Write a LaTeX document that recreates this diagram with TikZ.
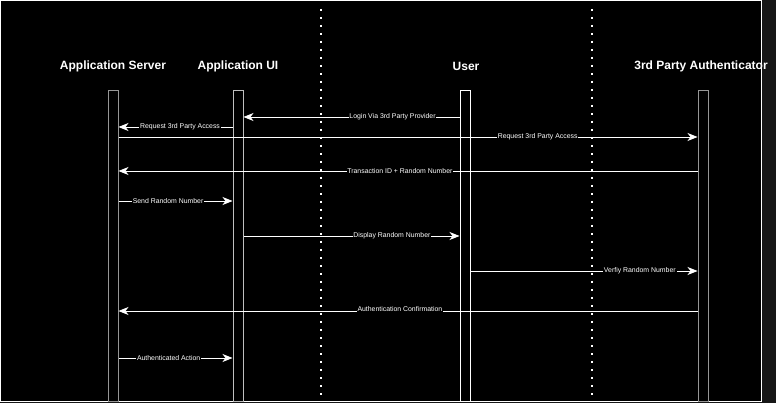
\documentclass[tikz,border=0pt]{standalone}
\usepackage{fontspec}
\setmainfont{Liberation Sans}
\usetikzlibrary{arrows.meta}
\definecolor{strip}{RGB}{23,23,23}
\definecolor{dimline}{RGB}{150,150,150}
\tikzset{
  head/.style={text=white, font=\fontsize{12}{14}\selectfont\bfseries, inner sep=0pt},
  bar/.style={draw=#1, line width=1pt, fill=black, minimum width=10pt, minimum height=310pt, inner sep=0pt},
  msg/.style={draw=white, line width=0.9pt, -{Stealth[length=10pt,width=8pt,inset=3pt]}},
  lbl/.style={fill=black, text=white, font=\fontsize{6.9}{7}\selectfont, inner sep=0.8pt},
  lane/.style={white, line width=2pt, dash pattern=on 2pt off 6pt}
}
\begin{document}
\begin{tikzpicture}[x=1pt, y=-1pt]
        \useasboundingbox (0,0) rectangle (776,403);
        \fill[strip] (0,0) rectangle (776,403);
        \fill[black] (0,1) rectangle (761,401);
        \draw[white, line width=1pt] (0,1) rectangle (761,401);

        % lane separators
        \draw[lane] (321,9) -- (321,401);
        \draw[lane] (592,9) -- (592,401);

        \node[head] (srvh) at (113,66) {Application Server};
        \node[head] (uih) at (238,66) {Application UI};
        \node[head] (usrh) at (466,66) {User};
        \node[head] (tpah) at (701,66) {3rd Party Authenticator};

        \node[bar=dimline] (srv) at (113,246) {};
        \node[bar=lightgray] (ui) at (238,246) {};
        \node[bar=white] (usr) at (465,246) {};
        \node[bar=dimline] (tpa) at (703,246) {};

        \coordinate (m1) at (0,117);
        \coordinate (m2) at (0,127);
        \coordinate (m3) at (0,137);
        \coordinate (m4) at (0,171);
        \coordinate (m5) at (0,201);
        \coordinate (m6) at (0,236);
        \coordinate (m7) at (0,271);
        \coordinate (m8) at (0,311);
        \coordinate (m9) at (0,358);

        \draw[msg] (usr.west |- m1) to node[lbl, pos=0.31] {Login Via 3rd Party Provider} (ui.east |- m1);
        \draw[msg] (ui.west |- m2) to node[lbl, pos=0.46] {Request 3rd Party Access} (srv.east |- m2);
        \draw[msg] (srv.east |- m3) to node[lbl, pos=0.724] {Request 3rd Party Access} (tpa.west |- m3);
        \draw[msg] (tpa.west |- m4) to node[lbl, pos=0.514] {Transaction ID + Random Number} (srv.east |- m4);
        \draw[msg] (srv.east |- m5) to node[lbl, pos=0.435] {Send Random Number} (ui.west |- m5);
        \draw[msg] (ui.east |- m6) to node[lbl, pos=0.687] {Display Random Number} (usr.west |- m6);
        \draw[msg] (usr.east |- m7) to node[lbl, pos=0.746] {Verfiy Random Number} (tpa.west |- m7);
        \draw[msg] (tpa.west |- m8) to node[lbl, pos=0.514, yshift=2pt] {Authentication Confirmation} (srv.east |- m8);
        \draw[msg] (srv.east |- m9) to node[lbl, pos=0.44] {Authenticated Action} (ui.west |- m9);
\end{tikzpicture}
\end{document}
